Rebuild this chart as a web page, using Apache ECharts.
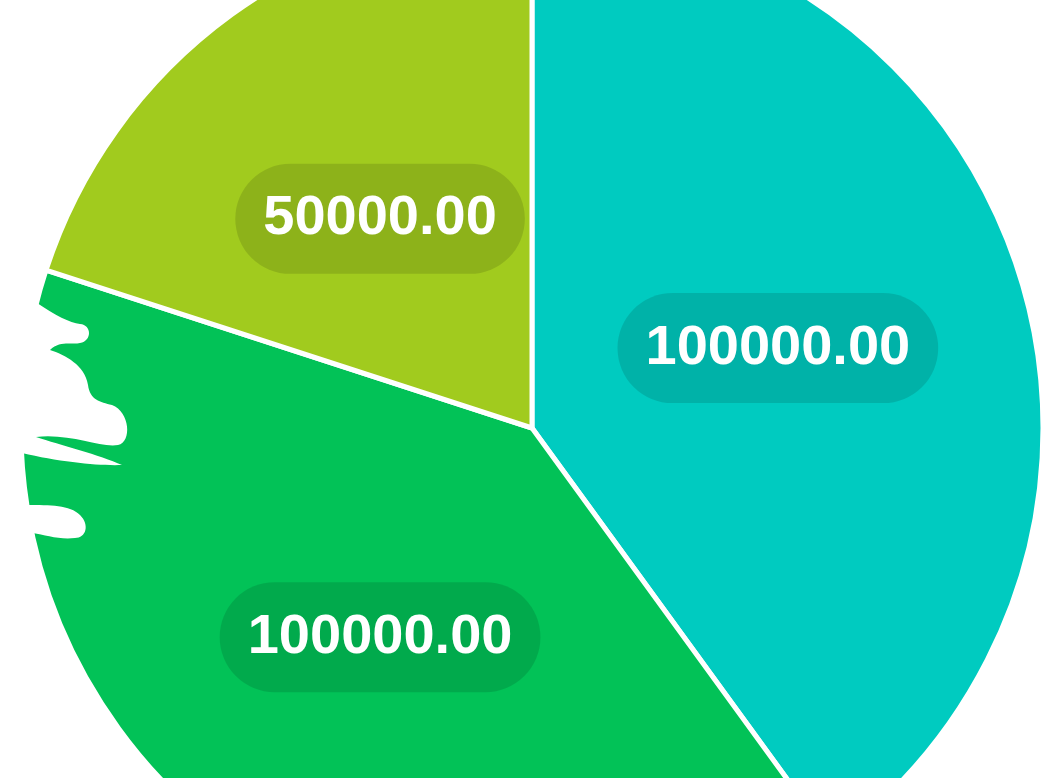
<!DOCTYPE html>
<html>
<head>
<meta charset="utf-8">
<script src="https://cdn.jsdelivr.net/npm/echarts@6/dist/echarts.min.js"></script>
<style>
  html, body { margin: 0; padding: 0; background: #fff; }
  #pie { width: 1043px; height: 778px; }
</style>
</head>
<body>
<div id="pie"></div>
<script>
  // slices, clockwise from 12 o'clock
  var names = ['A', 'B', 'C'];
  var values = [100000, 100000, 50000];
  var colors = ['#00cbc0', '#02c257', '#a1cb1e'];

  // white decorative smear on the left edge
  var smearPath = 'M 0 290 L 37 303 C 55 315 70 323 80 324 C 92 325 92 341 80 343 ' +
    'C 72 345 60 340 50 350 C 65 355 85 365 88 385 C 90 400 100 402 112 405 ' +
    'C 130 412 132 442 118 445 C 100 448 70 433 36 437 C 60 445 100 455 122 465 ' +
    'C 100 466 60 462 22 453 L 0 453 Z ' +
    'M 0 503 L 27 505 C 50 505 70 505 80 515 C 90 525 86 538 75 538 ' +
    'C 60 540 45 535 33 533 L 0 533 Z';
  echarts.graphic.registerShape('smear', echarts.graphic.extendPath(smearPath, {}));

  var chart = echarts.init(document.getElementById('pie'));

  var option = {
    backgroundColor: '#fff',
    animation: false,
    series: [{
      type: 'pie',
      center: [532, 428],
      radius: 511,
      startAngle: 90,
      clockwise: true,
      data: names.map(function (n, i) {
        return { name: n, value: values[i], itemStyle: { color: colors[i] } };
      }),
      itemStyle: { borderColor: '#fff', borderWidth: 5 },
      label: {
        show: true,
        position: 'inside',
        formatter: function (p) { return p.value.toFixed(2); },
        color: '#fff',
        fontFamily: 'Liberation Sans, Arial, sans-serif',
        fontWeight: 'bold',
        fontSize: 56,
        backgroundColor: 'rgba(0,0,0,0.12)',
        borderRadius: 55,
        padding: [27, 28]
      },
      labelLine: { show: false }
    }],
    graphic: [{
      type: 'smear',
      z: 100,
      style: { fill: '#fff' }
    }]
  };

  chart.setOption(option);
</script>
</body>
</html>
